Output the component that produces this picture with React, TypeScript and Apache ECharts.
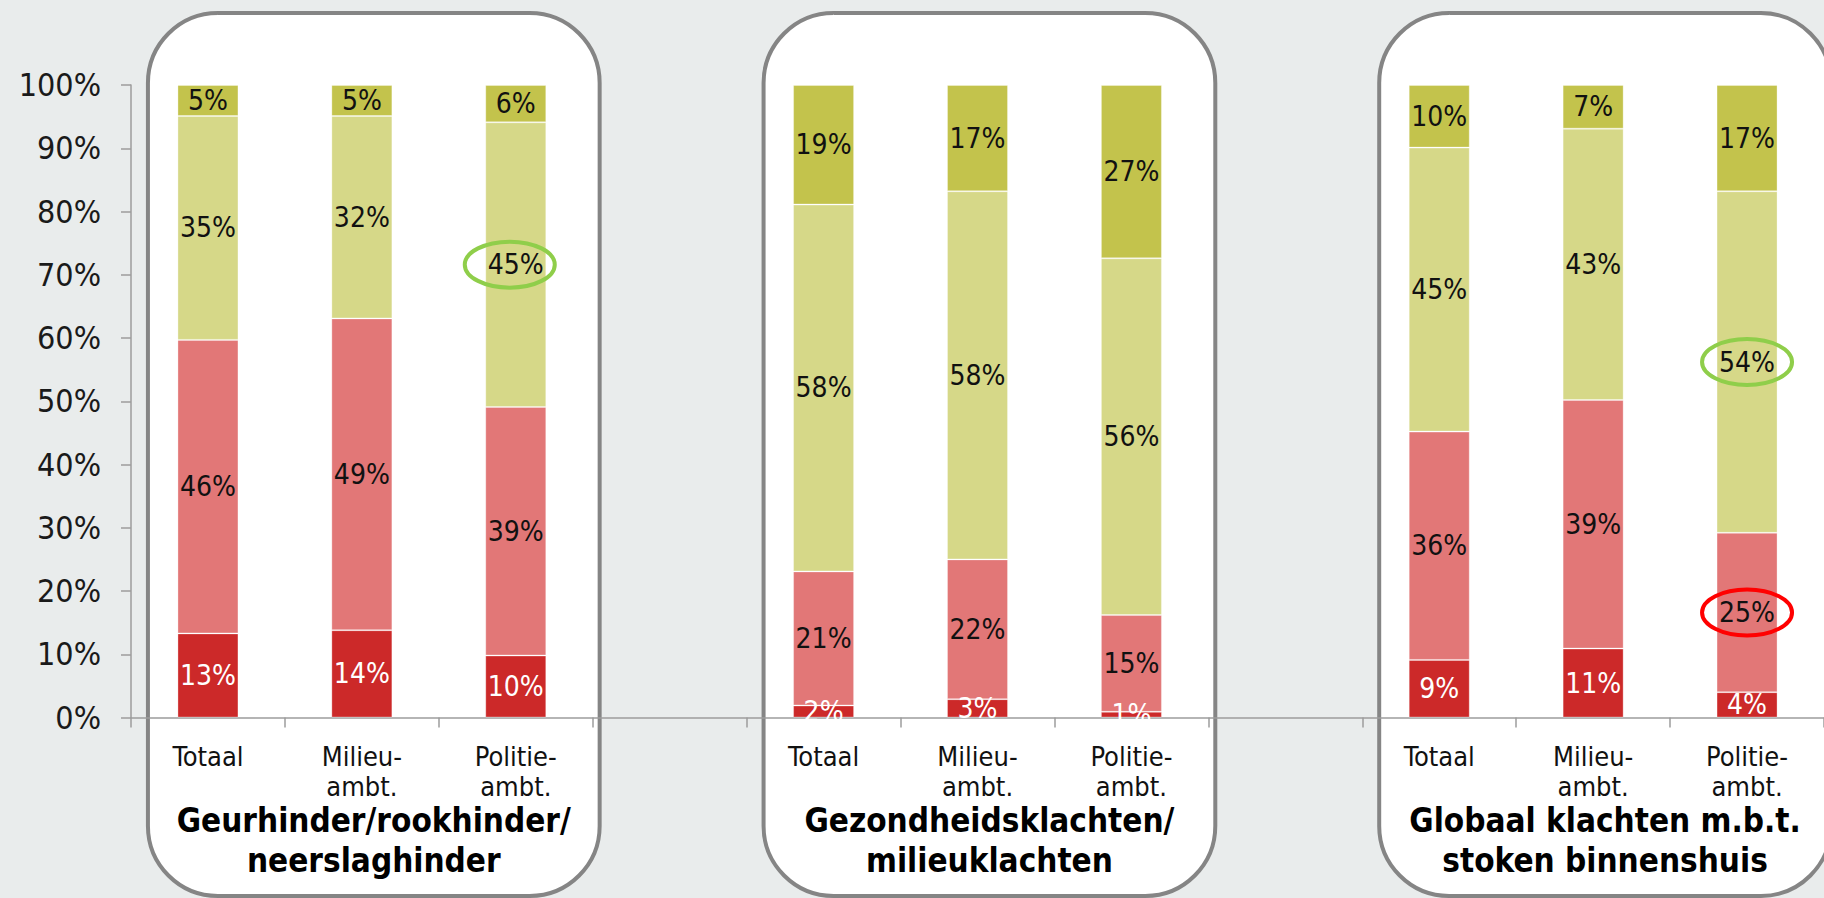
import React, { useEffect, useRef } from "react";
import * as echarts from "echarts";

// ---- data ----
const categories = [
  "Totaal", "Milieu-\nambt.", "Politie-\nambt.", "",
  "Totaal", "Milieu-\nambt.", "Politie-\nambt.", "",
  "Totaal", "Milieu-\nambt.", "Politie-\nambt.",
];
const groupTitles = [
  "Geurhinder/rookhinder/\nneerslaghinder",
  "Gezondheidsklachten/\nmilieuklachten",
  "Globaal klachten m.b.t.\nstoken binnenshuis",
];
const groupFirstCategory = [0, 4, 8];
const groupSize = 3;

const seriesNames = ["Segment 1", "Segment 2", "Segment 3", "Segment 4"];
const darkRed = [13.3, 13.8, 9.8, null, 1.9, 2.9, 0.9, null, 9.1, 10.9, 4.0];
const lightRed = [46.4, 49.3, 39.3, null, 21.2, 22.1, 15.3, null, 36.1, 39.3, 25.2];
const paleGreen = [35.4, 32.0, 45.0, null, 58.0, 58.2, 56.4, null, 44.9, 42.9, 54.0];
const olive = [4.9, 4.9, 5.9, null, 18.9, 16.8, 27.4, null, 9.9, 6.9, 16.8];

const yMin = 0;
const yMax = 100;
const yInterval = 10;

// highlighted labels: [category index, series index, colour, horizontal nudge]
const highlights: [number, number, string, number][] = [
  [2, 2, "#8fce4a", -6],
  [10, 2, "#8fce4a", 0],
  [10, 1, "#ff0000", 0],
];

const seriesData = [darkRed, lightRed, paleGreen, olive];
const seriesColors = ["#cc2929", "#e27777", "#d6d888", "#c3c34c"];
const labelColors = ["#ffffff", "#111111", "#111111", "#111111"];

const FONT = "'DejaVu Sans Condensed', 'DejaVu Sans', sans-serif";

export default function App() {
  const ref = useRef<HTMLDivElement>(null);

  useEffect(() => {
    if (!ref.current) return;
    const chart = echarts.init(ref.current, undefined, { renderer: "svg" });

    chart.setOption({
      animation: false,
      backgroundColor: "#e9ecec",
      grid: { left: 131, top: 85, bottom: 180.5, right: -4, containLabel: false },
      xAxis: {
        type: "category",
        data: categories,
        axisLine: { show: true, lineStyle: { color: "#9c9c9c", width: 1.5 } },
        axisTick: { show: true, alignWithLabel: false, interval: 0, length: 10, lineStyle: { color: "#9c9c9c", width: 1.5 } },
        axisLabel: {
          interval: 0,
          fontFamily: FONT,
          fontSize: 27,
          lineHeight: 30,
          color: "#111",
          margin: 24,
        },
        splitLine: { show: false },
      },
      yAxis: {
        type: "value",
        min: yMin,
        max: yMax,
        interval: yInterval,
        axisLine: { show: true, lineStyle: { color: "#9c9c9c", width: 1.5 } },
        axisTick: { show: true, length: 10, lineStyle: { color: "#9c9c9c", width: 1.5 } },
        axisLabel: {
          formatter: "{value}%",
          fontFamily: FONT,
          fontSize: 32,
          color: "#1a1a1a",
          margin: 30,
        },
        splitLine: { show: false },
      },
      series: seriesData.map((d, i) => ({
        name: seriesNames[i],
        type: "bar",
        stack: "total",
        barWidth: 61,
        data: d,
        itemStyle: { color: seriesColors[i], borderColor: "rgba(255,255,255,0.3)", borderWidth: 1 },
        label: {
          show: true,
          position: "inside",
          fontFamily: FONT,
          fontSize: 28,
          color: labelColors[i],
          formatter: (p: any) => (p.value == null ? "" : Math.round(p.value) + "%"),
        },
        z: 3,
      })),
    });

    // decoration built from the axis scales
    const px = (cat: number, val: number) =>
      chart.convertToPixel({ xAxisIndex: 0, yAxisIndex: 0 }, [cat, val]) as number[];
    const bw = px(1, 0)[0] - px(0, 0)[0];
    const boxTop = 13;
    const boxBottom = 896;

    const graphics: any[] = [];
    groupFirstCategory.forEach((start, g) => {
      const leftB = px(start, 0)[0] - bw / 2;
      const rightB = px(start + groupSize - 1, 0)[0] + bw / 2;
      const x0 = leftB + 0.11 * bw;
      const x1 = rightB + 0.045 * bw;
      graphics.push({
        type: "rect",
        z: -10,
        shape: { x: x0, y: boxTop, width: x1 - x0, height: boxBottom - boxTop, r: 70 },
        style: { fill: "#ffffff", stroke: "#858585", lineWidth: 4 },
      });
      graphics.push({
        type: "text",
        z: 10,
        style: {
          text: groupTitles[g],
          x: (x0 + x1) / 2,
          y: 800,
          align: "center",
          verticalAlign: "top",
          fontFamily: FONT,
          fontWeight: "bold",
          fontSize: 33,
          lineHeight: 40,
          fill: "#000",
        },
      });
    });

    highlights.forEach(([cat, s, color, dx]) => {
      let base = 0;
      for (let k = 0; k < s; k++) base += (seriesData[k][cat] as number) || 0;
      const mid = base + (seriesData[s][cat] as number) / 2;
      const p = px(cat, mid);
      graphics.push({
        type: "ellipse",
        z: 20,
        shape: { cx: p[0] + dx, cy: p[1], rx: 45, ry: 23 },
        style: { fill: "none", stroke: color, lineWidth: 4 },
      });
    });

    chart.setOption({ graphic: graphics });

    return () => chart.dispose();
  }, []);

  return (
    <div
      ref={ref}
      style={{ position: "fixed", left: 0, top: 0, width: 1824, height: 898 }}
    />
  );
}
